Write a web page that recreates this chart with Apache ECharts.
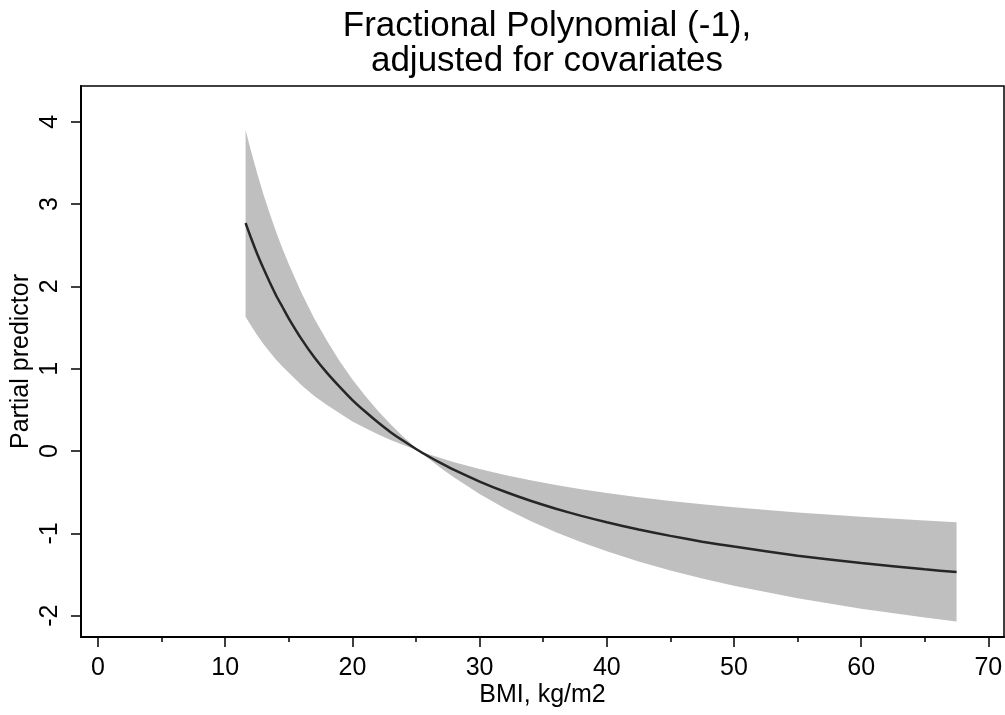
<!DOCTYPE html>
<html>
<head>
<meta charset="utf-8">
<script src="https://cdn.jsdelivr.net/npm/echarts@6/dist/echarts.min.js"></script>
<style>
  html, body { margin: 0; padding: 0; background: #fff; }
  #chart { width: 1005px; height: 715px; }
</style>
</head>
<body>
<div id="chart"></div>
<script>
const bmi = [11.6, 12, 12.5, 13, 13.5, 14, 14.5, 15, 16, 17, 18, 19, 20, 21, 22, 23, 24, 25, 26, 27, 28, 30, 32, 34, 36, 38, 40, 42.5, 45, 47.5, 50, 55, 60, 65, 67.5];
// fitted partial predictor
const fit = [2.77, 2.60, 2.40, 2.22, 2.05, 1.89, 1.75, 1.61, 1.36, 1.14, 0.95, 0.78, 0.62, 0.48, 0.35, 0.23, 0.125, 0.026, -0.066, -0.15, -0.229, -0.37, -0.494, -0.603, -0.70, -0.787, -0.865, -0.953, -1.03, -1.10, -1.16, -1.27, -1.36, -1.436, -1.47];
// confidence band edges (they swap over near BMI 25)
const bandA = [3.90, 3.66, 3.38, 3.12, 2.885, 2.66, 2.458, 2.27, 1.92, 1.61, 1.34, 1.09, 0.87, 0.673, 0.49, 0.327, 0.175, 0.036, -0.093, -0.212, -0.322, -0.52, -0.696, -0.849, -0.986, -1.108, -1.218, -1.341, -1.45, -1.548, -1.636, -1.788, -1.915, -2.022, -2.07];
const bandB = [1.63, 1.53, 1.41, 1.30, 1.204, 1.11, 1.026, 0.95, 0.80, 0.67, 0.56, 0.46, 0.36, 0.281, 0.205, 0.136, 0.073, 0.015, -0.039, -0.088, -0.135, -0.218, -0.29, -0.355, -0.412, -0.463, -0.508, -0.56, -0.605, -0.646, -0.683, -0.746, -0.799, -0.844, -0.864];
const xTicks = [0, 10, 20, 30, 40, 50, 60, 70];
const xMinorTicks = [5, 15, 25, 35, 45, 55, 65];
const yTicks = [-2, -1, 0, 1, 2, 3, 4];

const font = 'Liberation Sans, Arial, sans-serif';

const chart = echarts.init(document.getElementById('chart'));
const option = {
  animation: false,
  title: {
    text: 'Fractional Polynomial (-1),\nadjusted for covariates',
    left: 542,
    textAlign: 'center',
    top: 4,
    textStyle: { fontFamily: font, fontSize: 35, fontWeight: 'normal', color: '#000', lineHeight: 35 }
  },
  grid: {
    left: 81, top: 86, right: 1, bottom: 78,
    containLabel: false, outerBoundsMode: 'none',
    show: true, borderColor: '#000', borderWidth: 1.5, backgroundColor: '#fff'
  },
  xAxis: [
    {
      type: 'value', min: -1.34, max: 71.23,
      name: 'BMI, kg/m2', nameLocation: 'middle', nameGap: 46, nameMoveOverlap: false,
      nameTextStyle: { fontFamily: font, fontSize: 25, color: '#000' },
      axisLine: { show: true, onZero: false, lineStyle: { color: '#000', width: 2 } },
      axisTick: { show: true, length: 10, customValues: xTicks, lineStyle: { color: '#000', width: 1.5 } },
      axisLabel: { customValues: xTicks, margin: 19, fontFamily: font, fontSize: 25, color: '#000' },
      splitLine: { show: false }
    },
    {
      type: 'value', min: -1.34, max: 71.23, position: 'bottom',
      axisLine: { show: false, onZero: false },
      axisTick: { show: true, length: 5, customValues: xMinorTicks, lineStyle: { color: '#000', width: 1.5 } },
      axisLabel: { show: false },
      splitLine: { show: false }
    }
  ],
  yAxis: {
    type: 'value', min: -2.258, max: 4.434,
    name: 'Partial predictor', nameLocation: 'middle', nameGap: 47, nameRotate: 90, nameMoveOverlap: false,
    nameTextStyle: { fontFamily: font, fontSize: 25, color: '#000' },
    axisLine: { show: true, onZero: false, lineStyle: { color: '#000', width: 2 } },
    axisTick: { show: true, length: 10, customValues: yTicks, lineStyle: { color: '#000', width: 1.5 } },
    axisLabel: { customValues: yTicks, rotate: 90, margin: 18, fontFamily: font, fontSize: 25, color: '#000' },
    splitLine: { show: false }
  },
  series: [
    {
      type: 'custom',
      data: bmi.map((x, i) => [x, fit[i]]),
      encode: { x: 0, y: 1 },
      silent: true,
      renderItem: function (params, api) {
        if (params.dataIndex !== 0) return null;
        const pts = [];
        for (let i = 0; i < bmi.length; i++) pts.push(api.coord([bmi[i], bandA[i]]));
        for (let i = bmi.length - 1; i >= 0; i--) pts.push(api.coord([bmi[i], bandB[i]]));
        return { type: 'polygon', shape: { points: pts }, style: { fill: '#bfbfbf' } };
      }
    },
    {
      type: 'line', data: bmi.map((x, i) => [x, fit[i]]),
      symbol: 'none', smooth: 0.2, lineStyle: { color: '#262626', width: 2.5 }
    }
  ]
};
chart.setOption(option);
</script>
</body>
</html>
